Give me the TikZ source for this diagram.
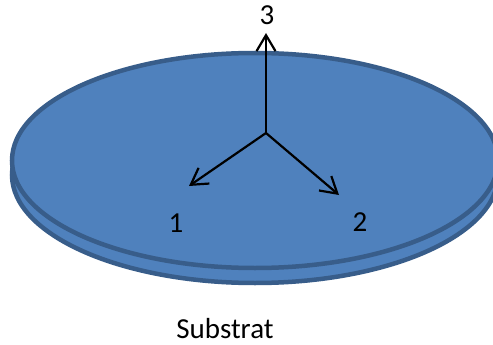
\documentclass[tikz,border=0pt]{standalone}
\usepackage{fontspec}
\setmainfont{Carlito}
\usetikzlibrary{arrows.meta}
\definecolor{discfill}{RGB}{79,129,189}
\definecolor{discedge}{RGB}{56,93,138}
\tikzset{
  disc/.style={fill=discfill,draw=discedge,line width=4.5pt},
  axis/.style={draw=black,line width=2.2pt,-{Straight Barb[length=16pt,width=19pt,line width=2.2pt]}},
  lab/.style={inner sep=0pt,font=\fontsize{29}{33}\selectfont,text=black}
}
\begin{document}
\begin{tikzpicture}[x=1pt,y=-1pt]
\useasboundingbox (0,0) rectangle (493,345);
\fill[white] (0,0) rectangle (493,345);
\begin{scope}
\clip (0,0) rectangle (493,345);
\draw[disc] (255,175) ellipse [x radius=243,y radius=108];
\draw[disc] (255,160.5) ellipse [x radius=243,y radius=107.5];
\end{scope}
\coordinate (o) at (266,133);
\coordinate (a1) at (189,186);
\coordinate (a2) at (339,195);
\coordinate (a3) at (266,33);
\draw[axis] (o) -- (a3);
\draw[axis] (o) -- (a1);
\draw[axis] (o) -- (a2);
\node[lab] (n3) at (267,15) {3};
\node[lab] (n1) at (176,223) {1};
\node[lab] (n2) at (360,222) {2};
\node[lab] (sub) at (225,329) {Substrat};
\end{tikzpicture}
\end{document}
